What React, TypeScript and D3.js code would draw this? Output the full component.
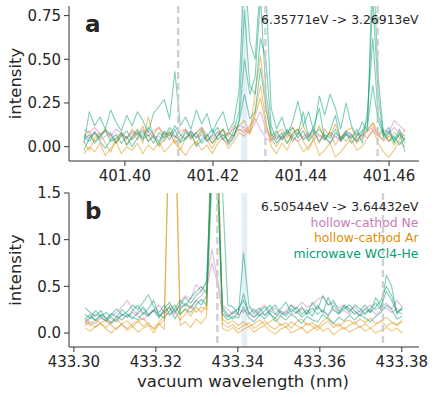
import React from "react";
import * as d3 from "d3";

// ---------- data ----------
const A_START = 401.3907;
const A_STEP = 0.001215;
const B_START = 433.3027;
const B_STEP = 0.00129;

const A_XTICKS = [401.4, 401.42, 401.44, 401.46];
const A_YTICKS = [0, 0.25, 0.5, 0.75];
const B_XTICKS = [433.3, 433.32, 433.34, 433.36, 433.38];
const B_YTICKS = [0, 0.5, 1.0, 1.5];

const A_DASHED = [401.4121, 401.4319, 401.4574];
const A_SPAN = [401.4264, 401.4278];
const B_DASHED = [433.335, 433.3754];
const B_SPAN = [433.3409, 433.3423];

const A_TITLE = "6.35771eV -> 3.26913eV";
const B_TITLE = "6.50544eV -> 3.64432eV";
const LEGEND = ["hollow-cathod Ne", "hollow-cathod Ar", "microwave WCl4-He"];

// panel a series
const A_G1 = [0.02, 0.2, 0.12, 0.17, 0.1, 0.21, 0.14, 0.09, 0.18, 0.12,
  0.2, 0.15, 0.08, 0.19, 0.23, 0.27, 0.16, 0.43, 0.12, 0.17,
  0.1, 0.21, 0.13, 0.19, 0.08, 0.15, 0.2, 0.09, 0.14, 0.32,
  1.05, 0.6, 0.5, 0.95, 0.9, 0.22, 0.1, 0.17, 0.07, 0.14,
  0.26, 0.12, 0.2, 0.08, 0.29, 0.18, 0.3, 0.22, 0.1, 0.25,
  0.12, 0.06, 0.14, 0.09, 1.1, 0.4, 0.07, 0.11, 0.02, 0.08,
  -0.03];
const A_G2 = [0.04, 0.07, 0.02, 0.06, 0.09, 0.03, 0.05, 0.08, 0.01, 0.06,
  0.1, 0.04, 0.07, 0.02, 0.08, 0.05, 0.11, 0.06, 0.03, 0.09,
  0.05, 0.08, 0.02, 0.06, 0.1, 0.04, 0.07, 0.03, 0.09, 0.2,
  0.78, 0.35, 0.3, 0.62, 0.5, 0.12, 0.04, 0.08, 0.02, 0.07,
  0.1, 0.04, 0.06, 0.09, 0.03, 0.07, 0.05, 0.1, 0.04, 0.08,
  0.02, 0.06, 0.09, 0.15, 0.85, 0.3, 0.05, 0.08, 0.03, 0.07,
  0.04];
const A_G3 = [-0.02, 0.05, 0.08, 0.03, -0.01, 0.04, 0.07, 0.02, 0.06, 0.0,
  0.05, 0.09, 0.03, 0.06, 0.01, 0.08, 0.04, 0.1, 0.02, 0.05,
  0.08, 0.0, 0.04, 0.07, 0.02, 0.06, 0.1, 0.01, 0.05, 0.15,
  0.5, 0.3, 0.4, 0.85, 0.32, 0.08, 0.02, 0.06, 0.1, 0.03,
  0.07, 0.2, 0.05, 0.12, 0.22, 0.04, 0.09, 0.18, 0.03, 0.07,
  0.05, 0.1, 0.02, 0.2, 0.62, 0.18, 0.08, 0.03, 0.06, 0.01,
  0.05];
const A_G4 = [0.06, 0.03, 0.08, 0.05, 0.1, 0.07, 0.02, 0.06, 0.09, 0.04,
  0.08, 0.05, 0.11, 0.07, 0.03, 0.09, 0.06, 0.12, 0.07, 0.04,
  0.09, 0.05, 0.1, 0.03, 0.07, 0.11, 0.04, 0.08, 0.06, 0.14,
  0.3, 0.16, 0.2, 0.45, 0.22, 0.06, 0.09, 0.04, 0.08, 0.11,
  0.05, 0.09, 0.03, 0.07, 0.1, 0.06, 0.02, 0.08, 0.05, 0.09,
  0.07, 0.03, 0.08, 0.12, 0.35, 0.15, 0.06, 0.09, 0.04, 0.1,
  0.02];
const A_O1 = [0.03, -0.02, 0.05, 0.08, 0.02, -0.03, 0.04, 0.07, 0.01, 0.05,
  0.09, 0.02, 0.17, 0.06, 0.0, 0.04, 0.08, 0.02, -0.02, 0.05,
  0.07, 0.01, 0.09, 0.04, -0.01, 0.06, 0.1, 0.03, 0.07, 0.12,
  0.15, 0.08, 0.3, 0.52, 0.25, 0.05, 0.0, 0.06, 0.02, 0.08,
  0.1, 0.03, -0.02, 0.05, 0.12, 0.04, 0.08, 0.01, 0.06, 0.03,
  0.07, 0.02, 0.05, 0.09, 0.14, 0.08, 0.03, 0.06, 0.01, 0.04,
  0.07];
const A_O2 = [-0.04, 0.0, -0.03, 0.02, -0.05, -0.01, 0.03, -0.04, 0.0, -0.02,
  0.02, -0.04, 0.01, -0.02, 0.03, -0.03, 0.0, 0.04, -0.01, -0.05,
  0.0, 0.03, -0.02, 0.01, -0.04, 0.02, 0.05, -0.01, 0.03, 0.08,
  0.06, 0.1, 0.2, 0.35, 0.15, 0.0, -0.04, 0.02, -0.02, 0.06,
  0.03, -0.03, 0.0, 0.04, -0.05, -0.02, 0.02, -0.06, -0.03, 0.01,
  0.04, -0.02, 0.0, 0.05, 0.1, 0.02, -0.03, -0.06, -0.02, 0.03,
  0.0];
const A_O3 = [0.06, 0.09, 0.03, 0.07, 0.1, 0.05, 0.02, 0.08, 0.04, 0.1,
  0.06, 0.12, 0.03, 0.07, 0.11, 0.05, 0.09, 0.02, 0.06, 0.1,
  0.04, 0.08, 0.11, 0.05, 0.02, 0.07, 0.1, 0.06, 0.12, 0.09,
  0.1, 0.07, 0.18, 0.28, 0.12, 0.04, 0.08, 0.1, 0.05, 0.11,
  0.07, 0.12, 0.04, 0.08, 0.02, 0.1, 0.06, 0.13, 0.05, 0.09,
  0.11, 0.04, 0.07, 0.1, 0.13, 0.06, 0.09, 0.03, 0.08, 0.05,
  0.1];
const A_P1 = [0.1, 0.08, 0.11, 0.07, 0.09, 0.06, 0.1, 0.08, 0.05, 0.09,
  0.07, 0.1, 0.06, 0.09, 0.11, 0.07, 0.08, 0.05, 0.09, 0.1,
  0.06, 0.08, 0.11, 0.07, 0.04, 0.09, 0.06, 0.08, 0.1, 0.12,
  0.11, 0.08, 0.14, 0.2, 0.1, 0.04, 0.07, 0.05, 0.09, 0.06,
  0.08, 0.05, 0.07, 0.1, 0.06, 0.04, 0.08, 0.06, 0.03, 0.07,
  0.05, 0.08, 0.06, 0.09, 0.11, 0.07, 0.1, 0.08, 0.15, 0.12,
  0.09];
const A_P2 = [0.07, 0.05, 0.09, 0.04, 0.06, 0.08, 0.03, 0.07, 0.05, 0.08,
  0.04, 0.07, 0.09, 0.05, 0.06, 0.03, 0.08, 0.06, 0.04, 0.07,
  0.09, 0.05, 0.07, 0.03, 0.06, 0.08, 0.04, 0.02, 0.06, 0.1,
  0.08, 0.12, 0.16, 0.1, 0.05, 0.03, 0.06, 0.04, 0.07, 0.05,
  0.03, 0.06, 0.08, 0.04, 0.07, 0.05, 0.02, 0.06, 0.04, 0.08,
  0.06, 0.03, 0.07, 0.05, 0.09, 0.06, 0.04, 0.07, 0.11, 0.08,
  0.06];

// panel b series
const B_G1 = [0.27, 0.22, 0.18, 0.24, 0.15, 0.2, 0.26, 0.19, 0.23, 0.3,
  0.25, 0.33, 0.41, 0.28, 0.22, 0.3, 0.2, 0.26, 0.35, 0.29,
  0.38, 0.44, 0.5, 0.42, 2.2, 2.1, 1.55, 0.3, 0.28, 0.2,
  0.86, 0.3, 0.22, 0.27, 0.19, 0.25, 0.3, 0.22, 0.18, 0.26,
  0.21, 0.28, 0.2, 0.33, 0.25, 0.4, 0.3, 0.35, 0.24, 0.28,
  0.22, 0.3, 0.26, 0.2, 0.27, 0.32, 0.25, 0.62, 0.5, 0.2,
  0.28];
const B_G2 = [0.15, 0.2, 0.13, 0.18, 0.22, 0.16, 0.12, 0.2, 0.17, 0.24,
  0.3, 0.2, 0.26, 0.35, 0.18, 0.23, 0.28, 0.15, 0.25, 0.32,
  0.27, 0.35, 0.3, 0.4, 1.9, 2.0, 0.28, 0.2, 0.15, 0.22,
  0.42, 0.2, 0.26, 0.18, 0.24, 0.3, 0.2, 0.26, 0.33, 0.22,
  0.28, 0.2, 0.25, 0.18, 0.3, 0.22, 0.38, 0.25, 0.2, 0.3,
  0.26, 0.2, 0.24, 0.3, 0.22, 0.28, 0.35, 0.5, 0.4, 0.24,
  0.2];
const B_G3 = [0.2, 0.16, 0.24, 0.18, 0.13, 0.21, 0.17, 0.25, 0.2, 0.15,
  0.22, 0.28, 0.2, 0.24, 0.16, 0.26, 0.33, 0.22, 0.3, 0.38,
  0.32, 0.4, 0.45, 0.55, 1.8, 1.7, 0.25, 0.17, 0.22, 0.26,
  0.35, 0.22, 0.17, 0.23, 0.28, 0.2, 0.16, 0.24, 0.2, 0.3,
  0.24, 0.17, 0.22, 0.27, 0.2, 0.25, 0.18, 0.3, 0.22, 0.26,
  0.3, 0.24, 0.19, 0.26, 0.22, 0.38, 0.28, 0.45, 0.35, 0.22,
  0.26];
const B_G4 = [0.12, 0.17, 0.14, 0.2, 0.16, 0.11, 0.18, 0.14, 0.2, 0.17,
  0.14, 0.22, 0.18, 0.25, 0.2, 0.16, 0.24, 0.3, 0.2, 0.26,
  0.22, 0.3, 0.36, 0.3, 1.6, 1.75, 0.2, 0.14, 0.18, 0.16,
  0.28, 0.16, 0.12, 0.2, 0.15, 0.22, 0.12, 0.18, 0.14, 0.2,
  0.16, 0.1, 0.18, 0.14, 0.12, 0.2, 0.15, 0.1, 0.17, 0.13,
  0.19, 0.14, 0.2, 0.16, 0.12, 0.18, 0.22, 0.3, 0.25, 0.15,
  0.18];
const B_O1 = [0.12, 0.08, 0.14, 0.1, 0.06, 0.12, 0.15, 0.09, 0.05, 0.1,
  0.13, 0.07, 0.11, 0.04, 0.09, 0.14, 2.6, 2.5, 0.2, 0.25,
  0.18, 0.28, 0.22, 0.3, 2.4, 2.3, 0.1, 0.06, 0.09, 0.04,
  0.08, 0.11, 0.05, 0.09, 0.13, 0.07, 0.04, 0.1, 0.06, 0.12,
  0.08, 0.05, 0.11, 0.07, 0.03, 0.09, 0.13, 0.06, 0.1, 0.04,
  0.08, 0.12, 0.06, 0.1, 0.05, 0.09, 0.13, 0.07, 0.11, 0.08,
  0.12];
const B_O2 = [0.05, 0.02, 0.07, 0.1, 0.04, 0.0, 0.06, 0.09, 0.03, 0.07,
  0.01, 0.05, 0.08, 0.0, 0.1, 0.04, 2.4, 2.3, 0.08, 0.12,
  0.06, 0.15, 0.1, 0.18, 2.1, 2.2, 0.05, 0.02, 0.06, 0.0,
  0.04, 0.07, 0.01, 0.05, 0.08, 0.02, -0.01, 0.04, 0.07, 0.0,
  0.03, 0.06, 0.0, 0.04, 0.08, 0.02, 0.05, -0.02, 0.03, 0.06,
  0.01, 0.04, 0.07, 0.02, 0.05, 0.0, 0.03, 0.06, 0.02, 0.05,
  0.0];
const B_O3 = [0.15, 0.1, 0.06, 0.11, 0.14, 0.08, 0.04, 0.1, 0.13, 0.07,
  0.12, 0.16, 0.09, 0.05, 0.12, 0.18, 0.3, 0.25, 0.14, 0.2,
  0.3, 0.22, 0.28, 0.25, 1.9, 1.8, 0.15, 0.1, 0.13, 0.08,
  0.12, 0.07, 0.1, 0.14, 0.09, 0.12, 0.16, 0.08, 0.11, 0.05,
  0.12, 0.15, 0.08, 0.11, 0.06, 0.13, 0.17, 0.1, 0.07, 0.12,
  0.14, 0.09, 0.15, 0.11, 0.16, 0.1, 0.13, 0.17, 0.12, 0.09,
  0.14];
const B_P1 = [0.1, 0.15, 0.2, 0.17, 0.12, 0.18, 0.22, 0.28, 0.35, 0.25,
  0.2, 0.26, 0.18, 0.24, 0.3, 0.22, 0.27, 0.2, 0.33, 0.4,
  0.36, 0.52, 0.45, 0.55, 0.9, 0.6, 0.3, 0.25, 0.2, 0.26,
  0.22, 0.28, 0.2, 0.25, 0.3, 0.23, 0.27, 0.2, 0.24, 0.3,
  0.26, 0.33, 0.28, 0.3, 0.36, 0.39, 0.3, 0.32, 0.27, 0.3,
  0.24, 0.28, 0.22, 0.26, 0.3, 0.25, 0.28, 0.32, 0.26, 0.35,
  0.28];
const B_P2 = [0.08, 0.12, 0.1, 0.16, 0.13, 0.1, 0.15, 0.2, 0.17, 0.22,
  0.18, 0.14, 0.2, 0.25, 0.18, 0.22, 0.19, 0.24, 0.28, 0.3,
  0.26, 0.35, 0.4, 0.48, 0.75, 0.55, 0.2, 0.18, 0.23, 0.19,
  0.25, 0.2, 0.17, 0.22, 0.19, 0.24, 0.2, 0.18, 0.23, 0.2,
  0.22, 0.26, 0.2, 0.24, 0.28, 0.22, 0.2, 0.25, 0.21, 0.24,
  0.2, 0.23, 0.18, 0.22, 0.25, 0.2, 0.24, 0.27, 0.22, 0.26,
  0.24];

const PINK = "#cc78bc";
const ORANGE = "#de8f05";
const GREEN = "#029e73";
const LEG_COLORS = [PINK, ORANGE, GREEN];

// ---------- layout ----------
const W = 436;
const H = 397;
const LEFT = 69;
const RIGHT = 419;
const FONT = "DejaVu Sans";
const TEXT = "#262626";
const AXIS = "#333333";

type Series = { vals: number[]; color: string };

type PanelProps = {
  id: string;
  top: number;
  bottom: number;
  xDomain: [number, number];
  yDomain: [number, number];
  start: number;
  step: number;
  series: Series[];
  xTicks: number[];
  yTicks: number[];
  yFmt: string;
  dashed: number[];
  span: number[];
  label: string;
  title: string;
  legend: boolean;
};

function Panel(p: PanelProps) {
  const x = d3.scaleLinear().domain(p.xDomain).range([LEFT, RIGHT]);
  const y = d3.scaleLinear().domain(p.yDomain).range([p.bottom, p.top]);
  const line = d3
    .line<number>()
    .x((_, i) => x(p.start + i * p.step))
    .y((v) => y(v));
  const yf = d3.format(p.yFmt);
  const xf = d3.format(".2f");
  const clipId = "clip-" + p.id;
  return (
    <g>
      <defs>
        <clipPath id={clipId}>
          <rect x={LEFT} y={p.top} width={RIGHT - LEFT} height={p.bottom - p.top} />
        </clipPath>
      </defs>
      <rect
        x={x(p.span[0])}
        y={p.top}
        width={x(p.span[1]) - x(p.span[0])}
        height={p.bottom - p.top}
        fill="#1f77b4"
        fillOpacity={0.12}
      />
      <g clipPath={`url(#${clipId})`}>
        {p.series.map((s, k) => (
          <path
            key={k}
            d={line(s.vals) || ""}
            fill="none"
            stroke={s.color}
            strokeOpacity={0.5}
            strokeWidth={1.1}
            strokeLinejoin="round"
          />
        ))}
        {p.dashed.map((d, k) => (
          <line
            key={k}
            x1={x(d)}
            x2={x(d)}
            y1={p.top}
            y2={p.bottom}
            stroke="#c8c8c8"
            strokeOpacity={0.85}
            strokeWidth={2.4}
            strokeDasharray="7,4"
          />
        ))}
      </g>
      {/* spines */}
      <line x1={LEFT} x2={LEFT} y1={p.top} y2={p.bottom} stroke={AXIS} strokeWidth={1} />
      <line x1={LEFT} x2={RIGHT} y1={p.bottom} y2={p.bottom} stroke={AXIS} strokeWidth={1} />
      {p.yTicks.map((t) => (
        <g key={"y" + t}>
          <line x1={LEFT - 5} x2={LEFT} y1={y(t)} y2={y(t)} stroke={AXIS} strokeWidth={1} />
          <text
            x={LEFT - 8}
            y={y(t) + 5.4}
            textAnchor="end"
            fontFamily={FONT}
            fontSize={15}
            fill={TEXT}
          >
            {yf(t)}
          </text>
        </g>
      ))}
      {p.xTicks.map((t) => (
        <g key={"x" + t}>
          <line x1={x(t)} x2={x(t)} y1={p.bottom} y2={p.bottom + 5} stroke={AXIS} strokeWidth={1} />
          <text
            x={x(t)}
            y={p.bottom + 19.8}
            textAnchor="middle"
            fontFamily={FONT}
            fontSize={15}
            fill={TEXT}
          >
            {xf(t)}
          </text>
        </g>
      ))}
      <text
        transform={`translate(21,${(p.top + p.bottom) / 2}) rotate(-90)`}
        textAnchor="middle"
        fontFamily={FONT}
        fontSize={16.5}
        fill={TEXT}
      >
        intensity
      </text>
      <text x={85} y={p.top + 26} fontFamily={FONT} fontWeight="bold" fontSize={23} fill={TEXT}>
        {p.label}
      </text>
      <text
        x={418.5}
        y={p.top + 18}
        textAnchor="end"
        fontFamily={FONT}
        fontSize={12.4}
        fill={TEXT}
      >
        {p.title}
      </text>
      {p.legend &&
        LEGEND.map((l, k) => (
          <text
            key={l}
            x={418.5}
            y={p.top + 33.5 + k * 15.5}
            textAnchor="end"
            fontFamily={FONT}
            fontSize={12.4}
            fill={LEG_COLORS[k]}
          >
            {l}
          </text>
        ))}
    </g>
  );
}

export default function App() {
  const aSeries: Series[] = [
    { vals: A_P1, color: PINK },
    { vals: A_P2, color: PINK },
    { vals: A_O1, color: ORANGE },
    { vals: A_O2, color: ORANGE },
    { vals: A_O3, color: ORANGE },
    { vals: A_G1, color: GREEN },
    { vals: A_G2, color: GREEN },
    { vals: A_G3, color: GREEN },
    { vals: A_G4, color: GREEN },
  ];
  const bSeries: Series[] = [
    { vals: B_P1, color: PINK },
    { vals: B_P2, color: PINK },
    { vals: B_O1, color: ORANGE },
    { vals: B_O2, color: ORANGE },
    { vals: B_O3, color: ORANGE },
    { vals: B_G1, color: GREEN },
    { vals: B_G2, color: GREEN },
    { vals: B_G3, color: GREEN },
    { vals: B_G4, color: GREEN },
  ];
  return (
    <svg
      width={W}
      height={H}
      viewBox={`0 0 ${W} ${H}`}
      style={{ position: "absolute", left: 0, top: 0, background: "#fff" }}
    >
      <rect x={0} y={0} width={W} height={H} fill="#fff" />
      <Panel
        id="a"
        top={6}
        bottom={161}
        xDomain={[401.3873, 401.4668]}
        yDomain={[-0.082, 0.805]}
        start={A_START}
        step={A_STEP}
        series={aSeries}
        xTicks={A_XTICKS}
        yTicks={A_YTICKS}
        yFmt=".2f"
        dashed={A_DASHED}
        span={A_SPAN}
        label="a"
        title={A_TITLE}
        legend={false}
      />
      <Panel
        id="b"
        top={193}
        bottom={347}
        xDomain={[433.2988, 433.3842]}
        yDomain={[-0.15, 1.5]}
        start={B_START}
        step={B_STEP}
        series={bSeries}
        xTicks={B_XTICKS}
        yTicks={B_YTICKS}
        yFmt=".1f"
        dashed={B_DASHED}
        span={B_SPAN}
        label="b"
        title={B_TITLE}
        legend={true}
      />
      <text
        x={243}
        y={386.5}
        textAnchor="middle"
        fontFamily={FONT}
        fontSize={16.5}
        fill={TEXT}
      >
        vacuum wavelength (nm)
      </text>
    </svg>
  );
}
